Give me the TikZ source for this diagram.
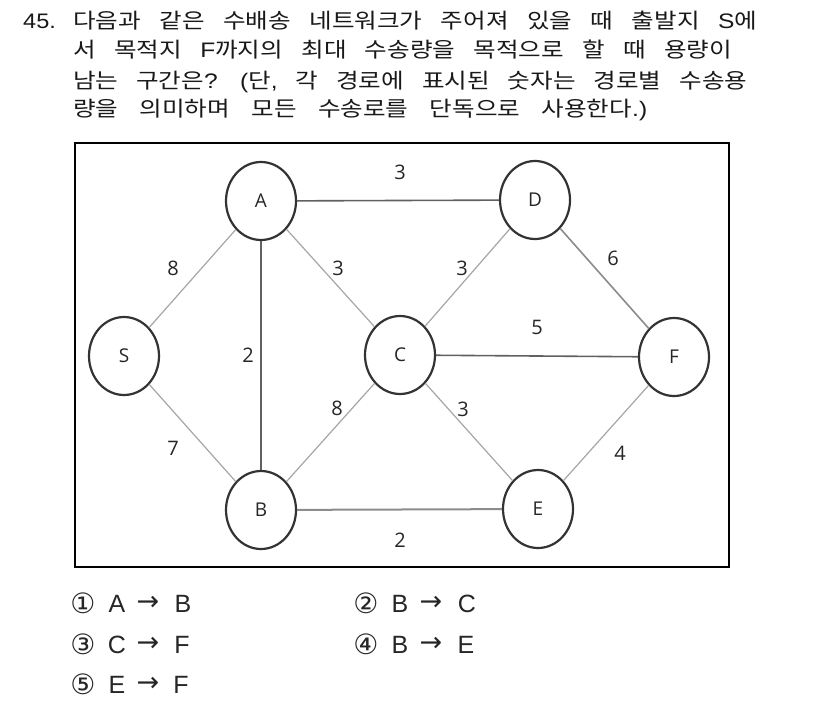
\documentclass[tikz,border=0pt]{standalone}
\usepackage{fontspec}
\setmainfont{Liberation Sans}
\newfontfamily\krfont{Noto Sans CJK KR}
\newfontfamily\latfont{Liberation Sans}
\newfontfamily\nodefont{Open Sans}
\newfontfamily\symfont{DejaVu Sans}
\usetikzlibrary{shapes.geometric}
\frenchspacing
\newcommand\myopt[8]{%
  \node[optsym] (#1d) at (#2,#3) {#4};
  \node[optlet] (#1a) at (#2+34,#3+9) {#5};
  \node[optarr] (#1r) at (#2+65,#3) {→};
  \node[optlet] (#1b) at (#2+#7,#3+#8) {#6};
}
\newcommand\krline[2]{\scalebox{1.17}[1]{\makebox[#1][s]{\frenchspacing #2}}}
\newcommand\la[1]{{\latfont #1}}
\begin{document}
\begin{tikzpicture}[x=1pt,y=-1pt,
  vtx/.style={ellipse, draw=black!80, line width=2.2pt, minimum width=70pt, minimum height=78pt,
    inner sep=0pt, font=\nodefont\fontsize{19}{19}\selectfont, text=black!85},
  wlab/.style={font=\nodefont\fontsize{20}{20}\selectfont, text=black!85, inner sep=0pt},
  ledge/.style={draw=black!35, line width=1.2pt},
  medge/.style={draw=black!45, line width=1.6pt},
  dedge/.style={draw=black!62, line width=1.6pt},
  qline/.style={anchor=base west, inner sep=0pt, font=\krfont\fontsize{21}{26}\selectfont, text=black!90},
  optlet/.style={anchor=base, inner sep=0pt, font=\fontsize{25}{25}\selectfont, text=black!85},
  optsym/.style={inner sep=0pt, font=\symfont\fontsize{28}{28}\selectfont, text=black!85},
  optarr/.style={inner sep=0pt, font=\symfont\fontsize{27}{27}\selectfont, text=black!85}]
\useasboundingbox (0,0) rectangle (826,701);
\fill[white] (0,0) rectangle (826,701);

% question text
\node[qline] (qn) at (23,29) {\scalebox{1.12}[1]{\la{45.}}};
\node[qline] (q1) at (73,29) {\krline{584.6pt}{다음과 같은 수배송 네트워크가 주어져 있을 때 출발지 \la{S}에}};
\node[qline] (q2) at (73,58) {\krline{563.2pt}{서 목적지 \la{F}까지의 최대 수송량을 목적으로 할 때 용량이}};
\node[qline] (q3) at (73,88) {\krline{576.1pt}{남는 구간은\la{? (}단\la{,} 각 경로에 표시된 숫자는 경로별 수송용}};
\node[qline] (q4) at (73,116) {\krline{490.6pt}{량을 의미하며 모든 수송로를 단독으로 사용한다\la{.)}}};

% frame
\draw[line width=2.5pt, black] (75,143) rectangle (729,567);

% vertices
\node[vtx] (A) at (261,201) {A};
\node[vtx] (D) at (535,200) {D};
\node[vtx] (S) at (124,356) {S};
\node[vtx] (C) at (400,355) {C};
\node[vtx] (F) at (674,357) {F};
\node[vtx] (B) at (261,510) {B};
\node[vtx] (E) at (538,509) {E};

% edges
\draw[ledge] (S) -- (A);
\draw[ledge] (S) -- (B);
\draw[dedge] (A) -- (D);
\draw[dedge] (A) -- (B);
\draw[ledge] (A) -- (C);
\draw[ledge] (C) -- (D);
\draw[medge] (D) -- (F);
\draw[dedge] (C) -- (F);
\draw[ledge] (B) -- (C);
\draw[ledge] (C) -- (E);
\draw[ledge] (E) -- (F);
\draw[medge, line width=2pt] (B) -- (E);

% weights
\node[wlab] (wAD) at (400,172) {3};
\node[wlab] (wSA) at (173,268) {8};
\node[wlab] (wAC) at (338,268) {3};
\node[wlab] (wCD) at (462,268) {3};
\node[wlab] (wDF) at (613,258) {6};
\node[wlab] (wCF) at (537,327) {5};
\node[wlab] (wAB) at (248,355) {2};
\node[wlab] (wBC) at (337,408) {8};
\node[wlab] (wCE) at (463,409) {3};
\node[wlab] (wSB) at (173,448) {7};
\node[wlab] (wEF) at (620,453) {4};
\node[wlab] (wBE) at (400,540) {2};

% options
\myopt{oa}{83}{603}{①}{A}{B}{100}{9}
\myopt{ob}{366}{603}{②}{B}{C}{101}{9}
\myopt{oc}{83}{644}{③}{C}{F}{99}{9}
\myopt{od}{366}{644}{④}{B}{E}{100}{9}
\myopt{oe}{83}{684}{⑤}{E}{F}{98}{9}
\end{tikzpicture}
\end{document}
